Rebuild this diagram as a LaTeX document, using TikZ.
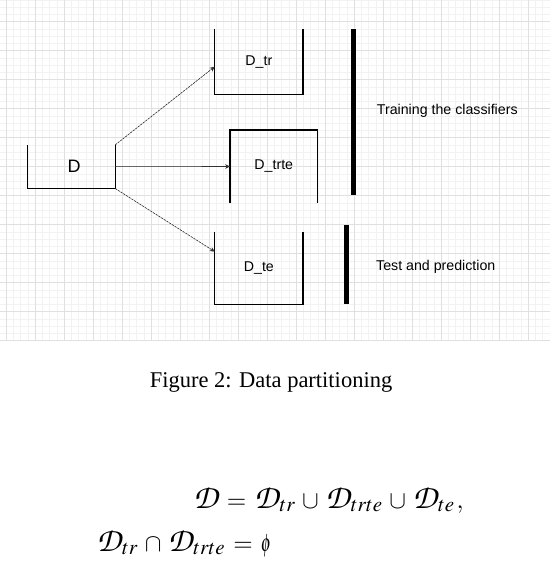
\documentclass[tikz,border=0pt]{standalone}
\usepackage{graphicx}
\usepackage{mathptmx}
\usepackage[no-math]{fontspec}
\setmainfont{Liberation Serif}
\newfontfamily\diagfont{Liberation Sans}
\DeclareMathSizes{25}{25}{21}{17}
\newcommand\calD{\mathord{\hbox{\fontsize{34}{38}\usefont{OT1}{pzc}{m}{it}D\kern1.5pt}}}
\newcommand\narrowphi{\mathord{\scalebox{0.65}[1]{$\phi$}}}
\newcommand\eqspacing{\medmuskip=4.8mu\relax\thickmuskip=5.8mu\relax}
\usetikzlibrary{arrows.meta,calc}
\begin{document}
\begin{tikzpicture}[x=1pt,y=-1pt,
  box/.style={rectangle, minimum width=87.7pt, inner sep=0pt, font=\diagfont\fontsize{14.2}{17}\selectfont},
  side/.style={line width=1.3pt, draw=black},
  conn/.style={-{Stealth[length=5pt,width=4.5pt]}, line width=0.6pt, draw=black!80, fill=black!80},
  dconn/.style={conn, dash pattern=on 2pt off 1.2pt},
  bar/.style={line width=4.5pt, draw=black},
  lbl/.style={anchor=west, inner sep=0pt, font=\diagfont\fontsize{14.2}{17}\selectfont},
  majorgrid/.style={draw=black!12, line width=0.6pt},
  minorgrid/.style={draw=black!5, line width=0.5pt},
  eq/.style={anchor=base west, inner sep=0pt, font=\fontsize{25}{30}\selectfont}]
\useasboundingbox (0,0) rectangle (550,572);
\fill[white] (0,0) rectangle (550,572);
\begin{scope}
  \clip (0,0) rectangle (550,341);
  \foreach \i in {-4,...,80} \draw[minorgrid] ({6+7.25*\i},0) -- ({6+7.25*\i},341);
  \foreach \j in {-4,...,50} \draw[minorgrid] (0,{21.7+7.25*\j}) -- (550,{21.7+7.25*\j});
  \foreach \i in {-1,...,19} \draw[majorgrid] ({6+29*\i},0) -- ({6+29*\i},341);
  \foreach \j in {-1,...,12} \draw[majorgrid] (0,{21.7+29*\j}) -- (550,{21.7+29*\j});
\end{scope}

\node[box, minimum height=43.3pt, font=\diagfont\fontsize{18}{21}\selectfont] (D) at (71.2,166.7) {\hspace*{6pt}D};
\node[box, minimum height=64.7pt] (Dtr) at (258.85,61.65) {D\_tr};
\node[box, minimum width=87pt, minimum height=72.4pt] (Dtrte) at (273.8,166.5) {D\_trte};
\node[box, minimum height=72.3pt] (Dte) at (258.85,268.15) {D\_te};

\draw[side] (D.north west) -- (D.south west) -- (D.south east) -- (D.north east);
\draw[side] (Dtr.north west) -- (Dtr.south west) -- (Dtr.south east) -- (Dtr.north east);
\draw[side] (Dtrte.south west) -- (Dtrte.north west) -- (Dtrte.north east) -- (Dtrte.south east);
\draw[side] (Dte.north west) -- (Dte.south west) -- (Dte.south east) -- (Dte.north east);

\draw[dconn] (D.north east) -- ([yshift=-5pt]Dtr.west);
\draw[conn] (D.east) -- (Dtrte.west);
\draw[dconn] (D.south east) -- ([yshift=16.5pt]Dte.west);

\coordinate (b1t) at (353.5,29.3);
\coordinate (b1b) at (353.5,195);
\coordinate (b2t) at (346.3,225);
\coordinate (b2b) at (346.3,304.3);
\draw[bar] (b1t) -- (b1b);
\draw[bar] (b2t) -- (b2b);

\node[lbl] (train) at (376.7,110.7) {Training the classifiers};
\node[lbl] (test) at (376,266.7) {Test and prediction};

\node[anchor=base, inner sep=0pt, font=\fontsize{22.5}{27}\selectfont] (cap) at (271,387) {Figure 2: Data partitioning};

\node[eq] (eq1) at (193.3,508) {$\eqspacing \calD = \calD_{tr} \cup \calD_{trte} \cup \calD_{te}\kern2pt,$};
\node[eq] (eq2) at (96.7,551) {$\eqspacing \calD_{tr} \cap \calD_{trte} = \narrowphi$};
\end{tikzpicture}
\end{document}
